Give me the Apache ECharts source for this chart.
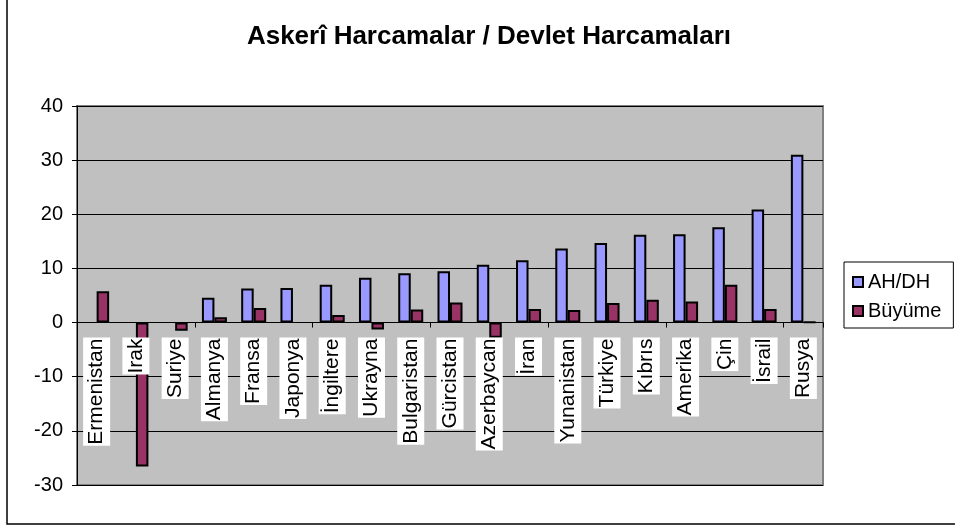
<!DOCTYPE html>
<html lang="tr">
<head>
    <meta charset="UTF-8">
    <title>Askerî Harcamalar</title>
    <script src="https://cdn.jsdelivr.net/npm/echarts@6/dist/echarts.min.js"></script>
    <style>
        html, body { margin: 0; padding: 0; background: #fff; }
    </style>
</head>
<body>
<div id="main" style="width: 955px; height: 526px"></div>
<script type="text/javascript">
    var countries = ['Ermenistan', 'Irak', 'Suriye', 'Almanya', 'Fransa', 'Japonya', 'İngiltere', 'Ukrayna',
        'Bulgaristan', 'Gürcistan', 'Azerbaycan', 'İran', 'Yunanistan', 'Türkiye', 'Kıbrıs', 'Amerika',
        'Çin', 'İsrail', 'Rusya'];
    var ahDh = [null, null, null, 4.6, 6.3, 6.4, 7.0, 8.3, 9.1, 9.5, 10.7, 11.5, 13.7, 14.7, 16.2, 16.3, 17.6, 20.9, 31.0];
    var buyume = [5.8, -26.6, -1.5, 1.0, 2.7, null, 1.4, -1.3, 2.4, 3.7, -2.8, 2.5, 2.3, 3.6, 4.2, 3.9, 7.0, 2.5, 0.1];
    var yTicks = {min: -30, max: 40, step: 10};

    var font = 'Liberation Sans, Arial, sans-serif';
    var gridTop = 106, gridBottom = 41, chartH = 526;
    // labels sit under the zero line, so lift a label-only axis up to it
    var plotH = chartH - gridTop - gridBottom;
    var zeroLift = plotH * (0 - yTicks.min) / (yTicks.max - yTicks.min);

    var myChart = echarts.init(document.getElementById('main'));

    var option = {
        animation: false,
        backgroundColor: '#fff',
        title: {
            text: 'Askerî Harcamalar / Devlet Harcamaları',
            left: 484,
            textAlign: 'center',
            top: 19,
            textStyle: {fontFamily: font, fontSize: 26, fontWeight: 'bold', color: '#000'}
        },
        graphic: [{
            type: 'rect',
            shape: {x: 7, y: -10, width: 1000, height: 534},
            style: {fill: 'none', stroke: '#000', lineWidth: 1.5},
            z: 100
        }],
        legend: {
            orient: 'vertical',
            left: 844,
            top: 262,
            padding: [10, 12, 7, 8],
            itemWidth: 10,
            itemHeight: 10,
            itemGap: 9,
            borderColor: '#000',
            borderWidth: 1,
            icon: 'rect',
            itemStyle: {borderColor: '#000', borderWidth: 2},
            textStyle: {fontFamily: font, fontSize: 20, color: '#000', lineHeight: 20},
            data: ['AH/DH', 'Büyüme']
        },
        grid: {
            left: 77,
            right: 132,
            top: gridTop,
            bottom: gridBottom,
            outerBoundsMode: 'none',
            containLabel: false,
            show: true,
            backgroundColor: '#C0C0C0',
            borderColor: '#808080',
            borderWidth: 2
        },
        xAxis: [{
            type: 'category',
            data: countries,
            axisLine: {onZero: true, lineStyle: {color: '#000', width: 1}},
            axisTick: {show: true, length: 5, lineStyle: {color: '#000'}},
            axisLabel: {show: false}
        }, {
            type: 'category',
            data: countries,
            position: 'bottom',
            offset: -zeroLift,
            z: 5,
            axisLine: {show: false, onZero: false},
            axisTick: {show: false},
            splitLine: {show: false},
            axisLabel: {
                rotate: 90,
                interval: 0,
                margin: 15,
                fontFamily: font,
                fontSize: 21,
                color: '#000',
                backgroundColor: '#fff',
                padding: [3, 1]
            }
        }],
        yAxis: {
            type: 'value',
            min: yTicks.min,
            max: yTicks.max,
            interval: yTicks.step,
            axisLine: {show: true, lineStyle: {color: '#000', width: 1}},
            axisTick: {show: true, length: 5, lineStyle: {color: '#000'}},
            axisLabel: {fontFamily: font, fontSize: 20, color: '#000', margin: 14},
            splitLine: {lineStyle: {color: '#000', width: 1}}
        },
        series: [
            {
                name: 'AH/DH',
                type: 'bar',
                data: ahDh,
                barWidth: 12.5,
                barGap: '0%',
                itemStyle: {color: '#9999FF', borderColor: '#000', borderWidth: 2}
            },
            {
                name: 'Büyüme',
                type: 'bar',
                data: buyume,
                barWidth: 12.5,
                barGap: '0%',
                itemStyle: {color: '#993366', borderColor: '#000', borderWidth: 2}
            }
        ]
    };

    myChart.setOption(option);
</script>
</body>
</html>
